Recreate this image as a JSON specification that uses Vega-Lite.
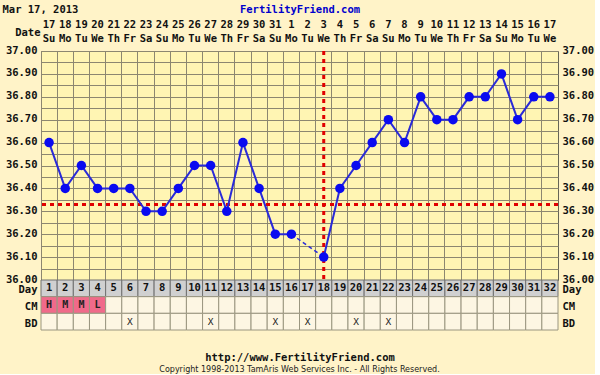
{
  "$schema": "https://vega.github.io/schema/vega-lite/v6.json",
  "background": "#FFF3C8",
  "padding": {"left": 2, "top": 4, "right": 0, "bottom": 0},
  "spacing": 0,
  "bounds": "flush",
  "config": {
    "font": "DejaVu Sans Mono",
    "view": {"stroke": null},
    "axis": {
      "labelFont": "DejaVu Sans Mono", "labelFontWeight": "bold", "labelFontSize": 10.5, "labelColor": "#111111",
      "titleFont": "DejaVu Sans Mono", "titleFontWeight": "bold", "titleFontSize": 10.5, "titleColor": "#111111",
      "ticks": false, "domain": false
    }
  },
  "datasets": {
    "days": [
      {"day": 1, "date": 17, "wd": "Su", "temp": 36.6, "seg": "a", "cm": "H", "bd": null},
      {"day": 2, "date": 18, "wd": "Mo", "temp": 36.4, "seg": "a", "cm": "M", "bd": null},
      {"day": 3, "date": 19, "wd": "Tu", "temp": 36.5, "seg": "a", "cm": "M", "bd": null},
      {"day": 4, "date": 20, "wd": "We", "temp": 36.4, "seg": "a", "cm": "L", "bd": null},
      {"day": 5, "date": 21, "wd": "Th", "temp": 36.4, "seg": "a", "cm": null, "bd": null},
      {"day": 6, "date": 22, "wd": "Fr", "temp": 36.4, "seg": "a", "cm": null, "bd": "X"},
      {"day": 7, "date": 23, "wd": "Sa", "temp": 36.3, "seg": "a", "cm": null, "bd": null},
      {"day": 8, "date": 24, "wd": "Su", "temp": 36.3, "seg": "a", "cm": null, "bd": null},
      {"day": 9, "date": 25, "wd": "Mo", "temp": 36.4, "seg": "a", "cm": null, "bd": null},
      {"day": 10, "date": 26, "wd": "Tu", "temp": 36.5, "seg": "a", "cm": null, "bd": null},
      {"day": 11, "date": 27, "wd": "We", "temp": 36.5, "seg": "a", "cm": null, "bd": "X"},
      {"day": 12, "date": 28, "wd": "Th", "temp": 36.3, "seg": "a", "cm": null, "bd": null},
      {"day": 13, "date": 29, "wd": "Fr", "temp": 36.6, "seg": "a", "cm": null, "bd": null},
      {"day": 14, "date": 30, "wd": "Sa", "temp": 36.4, "seg": "a", "cm": null, "bd": null},
      {"day": 15, "date": 31, "wd": "Su", "temp": 36.2, "seg": "a", "cm": null, "bd": "X"},
      {"day": 16, "date": 1, "wd": "Mo", "temp": 36.2, "seg": "a", "cm": null, "bd": null},
      {"day": 17, "date": 2, "wd": "Tu", "temp": null, "seg": null, "cm": null, "bd": "X"},
      {"day": 18, "date": 3, "wd": "We", "temp": 36.1, "seg": "b", "cm": null, "bd": null, "ov": true},
      {"day": 19, "date": 4, "wd": "Th", "temp": 36.4, "seg": "b", "cm": null, "bd": null},
      {"day": 20, "date": 5, "wd": "Fr", "temp": 36.5, "seg": "b", "cm": null, "bd": "X"},
      {"day": 21, "date": 6, "wd": "Sa", "temp": 36.6, "seg": "b", "cm": null, "bd": null},
      {"day": 22, "date": 7, "wd": "Su", "temp": 36.7, "seg": "b", "cm": null, "bd": "X"},
      {"day": 23, "date": 8, "wd": "Mo", "temp": 36.6, "seg": "b", "cm": null, "bd": null},
      {"day": 24, "date": 9, "wd": "Tu", "temp": 36.8, "seg": "b", "cm": null, "bd": null},
      {"day": 25, "date": 10, "wd": "We", "temp": 36.7, "seg": "b", "cm": null, "bd": null},
      {"day": 26, "date": 11, "wd": "Th", "temp": 36.7, "seg": "b", "cm": null, "bd": null},
      {"day": 27, "date": 12, "wd": "Fr", "temp": 36.8, "seg": "b", "cm": null, "bd": null},
      {"day": 28, "date": 13, "wd": "Sa", "temp": 36.8, "seg": "b", "cm": null, "bd": null},
      {"day": 29, "date": 14, "wd": "Su", "temp": 36.9, "seg": "b", "cm": null, "bd": null},
      {"day": 30, "date": 15, "wd": "Mo", "temp": 36.7, "seg": "b", "cm": null, "bd": null},
      {"day": 31, "date": 16, "wd": "Tu", "temp": 36.8, "seg": "b", "cm": null, "bd": null},
      {"day": 32, "date": 17, "wd": "We", "temp": 36.8, "seg": "b", "cm": null, "bd": null}
    ]
  },
  "vconcat": [
    {
      "width": 517,
      "height": 34,
      "data": {"name": "days"},
      "layer": [
        {
          "mark": {"type": "text", "font": "DejaVu Sans Mono", "fontWeight": "bold", "fontSize": 10.5, "color": "#111111", "dy": -2},
          "encoding": {
            "x": {"field": "day", "type": "ordinal", "scale": {"paddingInner": 0, "paddingOuter": 0},
              "axis": {"orient": "top", "labels": false, "grid": false, "title": "FertilityFriend.com", "titleColor": "#0000CC", "titleX": 258.5, "titleY": -8, "titleAlign": "center", "titleBaseline": "middle"}},
            "y": {"datum": "num", "type": "nominal", "scale": {"type": "point", "domain": ["num", "wd"], "padding": 0.714},
              "axis": {"labels": false, "grid": false, "title": "Date", "titleAngle": 0, "titleX": -1, "titleY": 15, "titleAlign": "right", "titleBaseline": "middle"}},
            "text": {"field": "date", "type": "nominal"}
          }
        },
        {
          "mark": {"type": "text", "font": "DejaVu Sans Mono", "fontWeight": "bold", "fontSize": 10.5, "color": "#111111", "dy": -2},
          "encoding": {
            "x": {"field": "day", "type": "ordinal", "scale": {"paddingInner": 0, "paddingOuter": 0},
              "axis": {"orient": "top", "labels": false, "grid": false, "title": "Mar 17, 2013", "titleX": -39, "titleY": -8, "titleAlign": "left", "titleBaseline": "middle"}},
            "y": {"datum": "wd", "type": "nominal", "scale": {"type": "point", "domain": ["num", "wd"], "padding": 0.714}, "axis": null},
            "text": {"field": "wd", "type": "nominal"}
          }
        }
      ],
      "resolve": {"axis": {"x": "independent", "y": "independent"}}
    },
    {
      "width": 517,
      "height": 229,
      "data": {"name": "days"},
      "view": {"fill": "#FFF5B3", "stroke": "#666655", "strokeWidth": 1},
      "layer": [
        {
          "mark": {"type": "rule", "color": "#E00000", "strokeWidth": 3, "strokeDash": [4, 4]},
          "encoding": {
            "y": {"datum": 36.33, "type": "quantitative", "scale": {"domain": [36, 37], "zero": false, "nice": false}, "axis": null}
          }
        },
        {
          "transform": [{"filter": "datum.ov == true"}],
          "mark": {"type": "rule", "color": "#E00000", "strokeWidth": 3, "strokeDash": [4, 4]},
          "encoding": {
            "x": {"field": "day", "type": "ordinal", "scale": {"domain": [1, 2, 3, 4, 5, 6, 7, 8, 9, 10, 11, 12, 13, 14, 15, 16, 17, 18, 19, 20, 21, 22, 23, 24, 25, 26, 27, 28, 29, 30, 31, 32], "paddingInner": 0, "paddingOuter": 0},
              "axis": {"labels": false, "title": null, "grid": true, "bandPosition": 0, "gridColor": "#8C8770", "gridOpacity": 1, "gridWidth": 1}}
          }
        },
        {
          "transform": [{"filter": "datum.temp != null"}],
          "mark": {"type": "line", "color": "#2A2AD8", "strokeWidth": 2},
          "encoding": {
            "x": {"field": "day", "type": "ordinal", "scale": {"domain": [1, 2, 3, 4, 5, 6, 7, 8, 9, 10, 11, 12, 13, 14, 15, 16, 17, 18, 19, 20, 21, 22, 23, 24, 25, 26, 27, 28, 29, 30, 31, 32], "paddingInner": 0, "paddingOuter": 0},
              "axis": {"labels": false, "title": null, "grid": true, "bandPosition": 0, "gridColor": "#8C8770", "gridOpacity": 1, "gridWidth": 1}},
            "y": {"field": "temp", "type": "quantitative", "scale": {"domain": [36, 37], "zero": false, "nice": false},
              "axis": {"orient": "left", "title": null, "grid": true, "gridColor": "#8C8770", "gridOpacity": 1,
                "values": [36, 36.05, 36.1, 36.15, 36.2, 36.25, 36.3, 36.35, 36.4, 36.45, 36.5, 36.55, 36.6, 36.65, 36.7, 36.75, 36.8, 36.85, 36.9, 36.95, 37],
                "labelExpr": "abs(datum.value*10 - round(datum.value*10)) < 0.001 ? format(datum.value, '.2f') : ''",
                "labelPadding": 4, "labelOffset": -1}},
            "detail": {"field": "seg", "type": "nominal"}
          }
        },
        {
          "transform": [{"filter": "datum.day == 16 || datum.day == 18"}],
          "mark": {"type": "line", "color": "#2A2AD8", "strokeWidth": 1.5, "strokeDash": [4, 3]},
          "encoding": {
            "x": {"field": "day", "type": "ordinal", "scale": {"domain": [1, 2, 3, 4, 5, 6, 7, 8, 9, 10, 11, 12, 13, 14, 15, 16, 17, 18, 19, 20, 21, 22, 23, 24, 25, 26, 27, 28, 29, 30, 31, 32], "paddingInner": 0, "paddingOuter": 0},
              "axis": {"labels": false, "title": null, "grid": true, "bandPosition": 0, "gridColor": "#8C8770", "gridOpacity": 1, "gridWidth": 1}},
            "y": {"field": "temp", "type": "quantitative", "scale": {"domain": [36, 37], "zero": false, "nice": false}, "axis": null}
          }
        },
        {
          "transform": [{"filter": "datum.temp != null"}],
          "mark": {"type": "point", "filled": true, "size": 90, "color": "#0A0AF0", "opacity": 1},
          "encoding": {
            "x": {"field": "day", "type": "ordinal", "scale": {"domain": [1, 2, 3, 4, 5, 6, 7, 8, 9, 10, 11, 12, 13, 14, 15, 16, 17, 18, 19, 20, 21, 22, 23, 24, 25, 26, 27, 28, 29, 30, 31, 32], "paddingInner": 0, "paddingOuter": 0},
              "axis": {"labels": false, "title": null, "grid": true, "bandPosition": 0, "gridColor": "#8C8770", "gridOpacity": 1, "gridWidth": 1}},
            "y": {"field": "temp", "type": "quantitative", "scale": {"domain": [36, 37], "zero": false, "nice": false},
              "axis": {"orient": "right", "title": null, "grid": false, "format": ".2f",
                "values": [36, 36.1, 36.2, 36.3, 36.4, 36.5, 36.6, 36.7, 36.8, 36.9, 37], "labelPadding": 4, "labelOffset": -1}}
          }
        }
      ],
      "resolve": {"axis": {"y": "independent"}}
    },
    {
      "width": 517,
      "height": 50,
      "data": {"name": "days"},
      "title": {"text": "Copyright 1998-2013 TamAris Web Services Inc. - All Rights Reserved.", "orient": "bottom", "anchor": "middle", "frame": "group", "font": "DejaVu Sans", "fontSize": 8, "fontWeight": "normal", "color": "#222222", "offset": 3},
      "encoding": {
        "x": {"field": "day", "type": "ordinal", "scale": {"paddingInner": 0, "paddingOuter": 0},
          "axis": {"orient": "bottom", "labels": false, "grid": false, "title": "http://www.FertilityFriend.com", "titlePadding": 22}}
      },
      "layer": [
        {
          "mark": {"type": "rect", "fill": "#D0D0D0", "stroke": "#707070", "strokeWidth": 1},
          "encoding": {
            "y": {"datum": "Day", "type": "nominal", "scale": {"type": "band", "domain": ["Day", "CM", "BD"], "paddingInner": 0, "paddingOuter": 0},
              "axis": {"orient": "left", "title": null, "grid": false, "labelPadding": 4, "labelOffset": 2}}
          }
        },
        {
          "mark": {"type": "rect", "stroke": "#9A9680", "strokeWidth": 1},
          "encoding": {
            "y": {"datum": "CM", "type": "nominal", "scale": {"type": "band", "domain": ["Day", "CM", "BD"], "paddingInner": 0, "paddingOuter": 0}, "axis": null},
            "fill": {"condition": {"test": "datum.cm != null", "value": "#F06A8A"}, "value": "#FDF6E3"}
          }
        },
        {
          "mark": {"type": "rect", "fill": "#FDF6E3", "stroke": "#9A9680", "strokeWidth": 1},
          "encoding": {
            "y": {"datum": "BD", "type": "nominal", "scale": {"type": "band", "domain": ["Day", "CM", "BD"], "paddingInner": 0, "paddingOuter": 0}, "axis": null}
          }
        },
        {
          "mark": {"type": "text", "font": "DejaVu Sans Mono", "fontWeight": "bold", "fontSize": 10.5, "color": "#111111"},
          "encoding": {
            "y": {"datum": "Day", "type": "nominal", "scale": {"type": "band", "domain": ["Day", "CM", "BD"], "paddingInner": 0, "paddingOuter": 0},
              "axis": {"orient": "right", "title": null, "grid": false, "labelPadding": 4, "labelOffset": 2}},
            "text": {"field": "day", "type": "nominal"}
          }
        },
        {
          "transform": [{"filter": "datum.cm != null"}],
          "mark": {"type": "text", "font": "DejaVu Sans Mono", "fontWeight": "bold", "fontSize": 10, "color": "#222222"},
          "encoding": {
            "y": {"datum": "CM", "type": "nominal", "scale": {"type": "band", "domain": ["Day", "CM", "BD"], "paddingInner": 0, "paddingOuter": 0}, "axis": null},
            "text": {"field": "cm", "type": "nominal"}
          }
        },
        {
          "transform": [{"filter": "datum.bd != null"}],
          "mark": {"type": "text", "font": "DejaVu Sans Mono", "fontSize": 9.5, "color": "#222222"},
          "encoding": {
            "y": {"datum": "BD", "type": "nominal", "scale": {"type": "band", "domain": ["Day", "CM", "BD"], "paddingInner": 0, "paddingOuter": 0}, "axis": null},
            "text": {"field": "bd", "type": "nominal"}
          }
        }
      ],
      "resolve": {"axis": {"y": "independent"}}
    }
  ]
}
